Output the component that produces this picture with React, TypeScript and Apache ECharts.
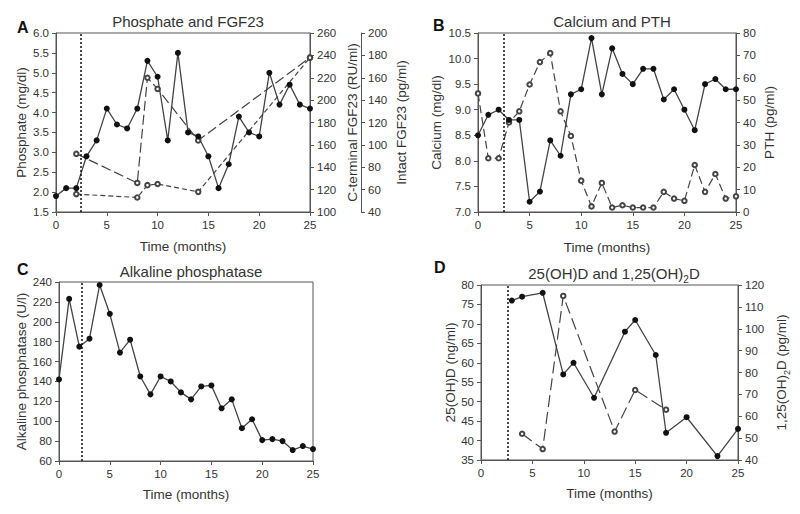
import React, { useEffect, useRef } from "react";
import * as echarts from "echarts";

// Panel A: Phosphate and FGF23
const phosMonths = [0, 1, 2, 3, 4, 5, 6, 7, 8, 9, 10, 11, 12, 13, 14, 15, 16, 17, 18, 19, 20, 21, 22, 23, 24, 25];
const phosphate = [1.9, 2.1, 2.1, 2.9, 3.3, 4.1, 3.7, 3.6, 4.1, 5.3, 4.9, 3.3, 5.5, 3.5, 3.4, 2.9, 2.1, 2.7, 3.9, 3.5, 3.4, 5.0, 4.2, 4.7, 4.2, 4.1];
const fgfMonths = [2, 8, 9, 10, 14, 25];
const cTermFGF23 = [152, 126, 220, 210, 164, 238];
const intactFGF23 = [56, 53, 64, 65, 58, 178];

// Panel B: Calcium and PTH
const caMonths = [0, 1, 2, 3, 4, 5, 6, 7, 8, 9, 10, 11, 12, 13, 14, 15, 16, 17, 18, 19, 20, 21, 22, 23, 24, 25];
const calcium = [8.5, 8.9, 9.0, 8.8, 8.8, 7.2, 7.4, 8.4, 8.1, 9.3, 9.4, 10.4, 9.3, 10.2, 9.7, 9.5, 9.8, 9.8, 9.2, 9.4, 9.0, 8.6, 9.5, 9.6, 9.4, 9.4];
const pth = [53, 24, 24, 40, 45, 57, 67, 71, 45, 34, 14, 2.5, 13, 2, 3, 2, 2, 2, 9, 6, 5, 21, 9, 17, 6, 7];

// Panel C: Alkaline phosphatase
const alpMonths = [0, 1, 2, 3, 4, 5, 6, 7, 8, 9, 10, 11, 12, 13, 14, 15, 16, 17, 18, 19, 20, 21, 22, 23, 24, 25];
const alp = [142, 223, 175, 183, 237, 208, 169, 182, 145, 127, 145, 140, 129, 122, 135, 136, 113, 122, 93, 102, 81, 82, 80, 71, 75, 72];

// Panel D: 25(OH)D and 1,25(OH)2D
const ohdMonths = [3, 4, 6, 8, 9, 11, 14, 15, 17, 18, 20, 23, 25];
const ohd = [76, 77, 78, 57, 60, 51, 68, 71, 62, 42, 46, 36, 43];
const dihMonths = [4, 6, 8, 13, 15, 18];
const dih = [52, 45, 115, 53, 72, 63];

// Treatment start markers (months)
const markerA = 2.45;
const markerB = 2.45;
const markerC = 2.2;
const markerD = 2.65;

const FONT = "Liberation Sans, Arial, sans-serif";
const TXT = "#333";
const AX = "#555";
const NAME_SIZE = 13.5;

const pairs = (xs: number[], ys: number[]) => xs.map((x, i) => [x, ys[i]]);

const xAx = (gridIndex: number, nameGap: number) => ({
  type: "value",
  gridIndex,
  min: 0,
  max: 25,
  interval: 5,
  name: "Time (months)",
  nameLocation: "middle",
  nameGap,
  nameTextStyle: { fontSize: NAME_SIZE, color: TXT, fontFamily: FONT },
  axisLine: { show: true, onZero: false, lineStyle: { color: AX, width: 1 } },
  axisTick: { show: true, inside: false, length: 4, lineStyle: { color: AX } },
  axisLabel: { fontSize: 11.5, color: TXT, fontFamily: FONT, margin: 7 },
  splitLine: { show: false },
});

const yAx = (
  gridIndex: number,
  min: number,
  max: number,
  interval: number,
  name: string,
  position: string,
  nameGap: number,
  offset = 0,
  decimals = 0,
  rich?: any
) => ({
  type: "value",
  gridIndex,
  min,
  max,
  interval,
  position,
  offset,
  name,
  nameLocation: "middle",
  nameRotate: 90,
  nameGap,
  nameTextStyle: { fontSize: NAME_SIZE, color: TXT, fontFamily: FONT, ...(rich ? { rich } : {}) },
  axisLine: { show: true, onZero: false, lineStyle: { color: AX, width: 1 } },
  axisTick: { show: true, inside: false, length: 4, lineStyle: { color: AX } },
  axisLabel: {
    fontSize: 11.5,
    color: TXT,
    fontFamily: FONT,
    margin: 7,
    formatter: (v: number) => v.toFixed(decimals),
  },
  splitLine: { show: false },
});

const solid = (name: string, data: number[][], xAxisIndex: number, yAxisIndex: number, marker?: number) => ({
  type: "line",
  name,
  data,
  xAxisIndex,
  yAxisIndex,
  symbol: "circle",
  symbolSize: 6,
  lineStyle: { color: "#444", width: 1.3 },
  itemStyle: { color: "#111" },
  z: 3,
  ...(marker !== undefined
    ? {
        markLine: {
          silent: true,
          symbol: ["none", "none"],
          label: { show: false },
          lineStyle: { type: [2, 2], color: "#111", width: 1.5 },
          data: [{ xAxis: marker }],
        },
      }
    : {}),
});

const dashed = (name: string, data: number[][], xAxisIndex: number, yAxisIndex: number, dash: number[]) => ({
  type: "line",
  name,
  data,
  xAxisIndex,
  yAxisIndex,
  symbol: "emptyCircle",
  symbolSize: 4.5,
  lineStyle: { color: "#444", width: 1.2, type: dash },
  itemStyle: { color: "#444", borderWidth: 0.9 },
  z: 2,
});

const gridBase = { show: true, borderColor: AX, borderWidth: 1, backgroundColor: "transparent" };

export default function App() {
  const ref = useRef<HTMLDivElement>(null);
  useEffect(() => {
    if (!ref.current) return;
    const chart = echarts.init(ref.current, undefined, { renderer: "svg" });
    const titleStyle = { fontSize: 15, fontWeight: "normal", color: TXT, fontFamily: FONT };
    const letterStyle = { fontSize: 16, fontWeight: "bold", color: "#111", fontFamily: FONT };
    chart.setOption({
      animation: false,
      backgroundColor: "#fff",
      title: [
        { text: "Phosphate and FGF23", left: 183, top: 9, textAlign: "center", textStyle: titleStyle },
        { text: "Calcium and PTH", left: 607, top: 9, textAlign: "center", textStyle: titleStyle },
        { text: "Alkaline phosphatase", left: 186, top: 259, textAlign: "center", textStyle: titleStyle },
        {
          text: "{a|25(OH)D and 1,25(OH)}{b|2}{a|D}",
          left: 609,
          top: 257,
          textAlign: "center",
          textStyle: {
            ...titleStyle,
            rich: {
              a: { fontSize: 15, lineHeight: 22, color: TXT, fontFamily: FONT },
              b: { fontSize: 10, lineHeight: 22, verticalAlign: "bottom", color: TXT, fontFamily: FONT },
            },
          },
        },
        { text: "A", left: 12, top: 14, textStyle: letterStyle },
        { text: "B", left: 428, top: 12, textStyle: letterStyle },
        { text: "C", left: 12, top: 256, textStyle: letterStyle },
        { text: "D", left: 429, top: 254, textStyle: letterStyle },
      ],
      grid: [
        { ...gridBase, left: 56, top: 33, width: 254, height: 179 },
        { ...gridBase, left: 478, top: 33, width: 258, height: 179 },
        { ...gridBase, left: 59, top: 282, width: 254, height: 179 },
        { ...gridBase, left: 481, top: 285, width: 257, height: 175 },
      ],
      xAxis: [xAx(0, 27), xAx(1, 28), xAx(2, 26), xAx(3, 26)],
      yAxis: [
        yAx(0, 1.5, 6.0, 0.5, "Phosphate (mg/dl)", "left", 28, 0, 1),
        yAx(0, 100, 260, 20, "C-terminal FGF23 (RU/ml)", "right", 35, 0, 0),
        yAx(0, 40, 200, 20, "Intact FGF23 (pg/ml)", "right", 33, 51, 0),
        yAx(1, 7.0, 10.5, 0.5, "Calcium (mg/dl)", "left", 35, 0, 1),
        yAx(1, 0, 80, 10, "PTH (pg/ml)", "right", 26, 0, 0),
        yAx(2, 60, 240, 20, "Alkaline phosphatase (U/l)", "left", 30, 0, 0),
        yAx(3, 35, 80, 5, "25(OH)D (ng/ml)", "left", 24, 0, 0),
        yAx(3, 40, 120, 10, "{a|1,25(OH)}{b|2}{a|D (pg/ml)}", "right", 34, 0, 0, {
          a: { fontSize: NAME_SIZE, lineHeight: 19, color: TXT, fontFamily: FONT },
          b: { fontSize: 9, lineHeight: 19, verticalAlign: "bottom", color: TXT, fontFamily: FONT },
        }),
      ],
      series: [
        solid("Phosphate", pairs(phosMonths, phosphate), 0, 0, markerA),
        dashed("C-terminal FGF23", pairs(fgfMonths, cTermFGF23), 0, 1, [10, 4]),
        dashed("Intact FGF23", pairs(fgfMonths, intactFGF23), 0, 2, [5, 3]),
        solid("Calcium", pairs(caMonths, calcium), 1, 3, markerB),
        dashed("PTH", pairs(caMonths, pth), 1, 4, [8, 4]),
        solid("Alkaline phosphatase", pairs(alpMonths, alp), 2, 5, markerC),
        solid("25(OH)D", pairs(ohdMonths, ohd), 3, 6, markerD),
        dashed("1,25(OH)2D", pairs(dihMonths, dih), 3, 7, [12, 5]),
      ],
    });
    return () => chart.dispose();
  }, []);
  return (
    <div
      ref={ref}
      style={{ position: "fixed", left: 0, top: 0, width: 800, height: 514, background: "#fff" }}
    />
  );
}
